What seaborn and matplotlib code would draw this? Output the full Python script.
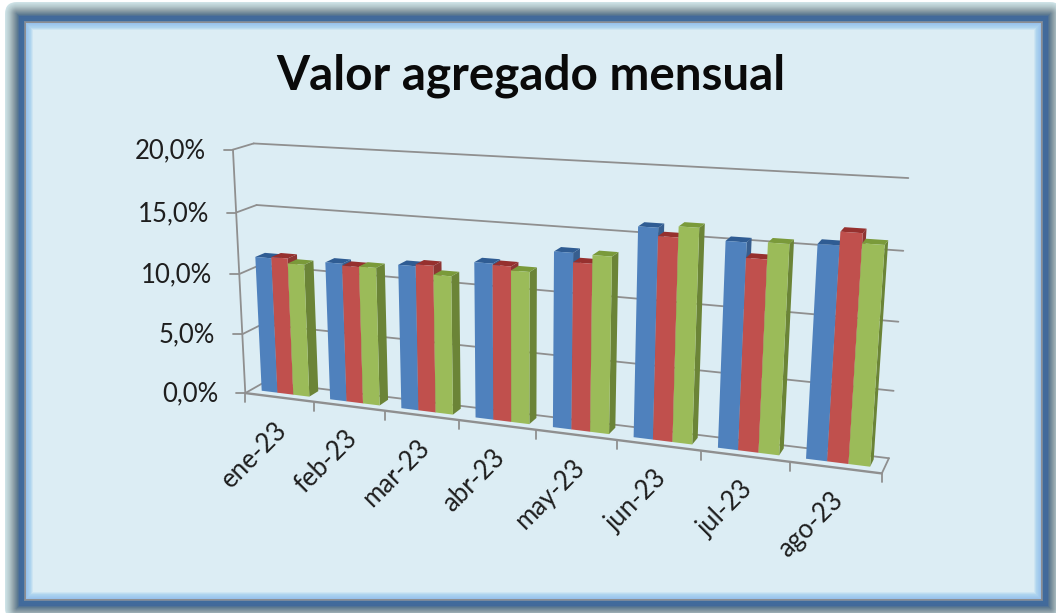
"""Valor agregado mensual, Excel style 3D columns drawn with seaborn."""
import matplotlib
matplotlib.use("Agg")
import matplotlib.pyplot as plt
import numpy as np
import pandas as pd
import seaborn as sns
from matplotlib.lines import Line2D
from matplotlib.patches import FancyBboxPatch, Polygon
from matplotlib.transforms import Affine2D, IdentityTransform, Transform

months = ["ene-23", "feb-23", "mar-23", "abr-23", "may-23", "jun-23", "jul-23", "ago-23"]
serie_a = [11.25, 11.3, 11.6, 12.3, 13.6, 15.9, 15.3, 15.55]
serie_b = [11.35, 11.15, 11.75, 12.2, 12.9, 15.3, 14.2, 16.5]
serie_c = [10.95, 11.2, 11.05, 11.9, 13.55, 16.1, 15.4, 15.8]
series_names = ["A", "B", "C"]
y_ticks = [0, 5, 10, 15, 20]
y_labels = ["0,0%", "5,0%", "10,0%", "15,0%", "20,0%"]

W, H = 1056, 613
GRID = "#8F8F8F"
front_colors = ["#4F81BD", "#C0504D", "#9BBB59"]
top_colors = ["#2F5C93", "#96302E", "#7A9A3A"]
side_colors = ["#375E8F", "#8E3533", "#6B8437"]
DEPTH_FRONT, DEPTH_BACK = 0.32, 0.8

# category position (0-8), depth (0-1), value -> pixel
calib = np.array([
    [0, 0, 0, 247, 393], [8, 0, 0, 882, 475], [8, 1, 0, 890, 456],
    [0, 1, 0, 263, 383], [0, 0, 20, 231, 149], [0, 1, 20, 255, 143],
    [8, 1, 20, 908, 179], [4, 0, 0, 535, 430], [0, 0, 10, 240, 274],
    [0, 0, 5, 243, 333], [0, 0, 15, 236, 213], [8, 1, 15, 904, 251],
    [8, 1, 10, 898, 322], [8, 1, 5, 893, 390], [0, 1, 15, 257, 205],
    [0, 1, 5, 262, 325],
], dtype=float)


def fit_camera(pts):
    rows = []
    for x, d, z, u, v in pts:
        X = [x / 8, d, z / 20, 1]
        u, v = u / 1000, v / 1000
        rows.append(X + [0, 0, 0, 0] + [-u * c for c in X])
        rows.append([0, 0, 0, 0] + X + [-v * c for c in X])
    return np.linalg.svd(np.array(rows))[2][-1].reshape(3, 4)


CAM = fit_camera(calib)


def project(x, d, z):
    x, d, z = np.broadcast_arrays(np.asarray(x, float), d, z)
    X = np.stack([x / 8, d, z / 20, np.ones_like(x)], axis=-1)
    q = X @ CAM.T
    return q[..., :2] / q[..., 2:] * 1000


class FrontPlane(Transform):
    input_dims = output_dims = 2

    def __init__(self, plane_depth):
        super().__init__()
        self.plane_depth = plane_depth

    def transform_non_affine(self, values):
        values = np.asarray(values, float)
        return project(values[:, 0] + 0.5, self.plane_depth, values[:, 1])


sns.set_theme(style="white")
plt.rcParams["font.family"] = ["Lato", "DejaVu Sans"]

fig = plt.figure(figsize=(W / 100, H / 100), dpi=100, facecolor="white")
ax = fig.add_axes([0, 0, 1, 1])
px = Affine2D().scale(1, -1).translate(0, H)

# frame, nested boxes from the soft outer shadow in to the pale panel
stops = [0, 4, 8, 12, 14, 18, 19, 20, 21, 25, 28]
reds = [0xCD, 0xB4, 0x8E, 0x5E, 0x42, 0x40, 0x78, 0x8C, 0x98, 0xAE, 0xDC]
greens = [0xE2, 0xC8, 0xA0, 0x7A, 0x69, 0x6B, 0x88, 0x8E, 0xC2, 0xD4, 0xED]
blues = [0xE6, 0xCC, 0xA8, 0x90, 0x9A, 0x9C, 0x9C, 0x92, 0xEC, 0xEE, 0xF4]
for off in np.arange(0, 29):
    col = [float(np.interp(off, stops, c)) / 255 for c in (reds, greens, blues)]
    x0, y0, x1, y1 = 5 + off, 2 + off, 1062 - off, 620 - off
    fig.add_artist(FancyBboxPatch(
        (x0, H - y1), x1 - x0, y1 - y0,
        boxstyle=f"round,pad=0,rounding_size={max(0.01, 12 - off)}",
        transform=IdentityTransform(), fc=col, ec="none", zorder=-5,
    ))

df = pd.DataFrame({
    "month": months * 3,
    "serie": np.repeat(series_names, len(months)),
    "value": serie_a + serie_b + serie_c,
})
sns.barplot(data=df, x="month", y="value", hue="serie", palette=front_colors,
            width=0.7, gap=0, saturation=1, linewidth=0, legend=False, ax=ax)
ax.set_xlim(-0.5, 7.5)
ax.set_ylim(0, 20)
ax.set_axis_off()
ax.patch.set_visible(False)


def grid_line(x, d, z, lw=1.3, zorder=1):
    uv = project(x, d, z)
    ax.add_line(Line2D(uv[:, 0], uv[:, 1], color=GRID, lw=lw, transform=px,
                       zorder=zorder, clip_on=False))


for z, label in zip(y_ticks, y_labels):
    grid_line([0, 0], [0, 1], [z, z])
    grid_line([0, 8], [1, 1], [z, z])
    u, v = project(0, 0, z)
    ax.add_line(Line2D([u - 9, u], [v, v], color=GRID, lw=1.3, transform=px, clip_on=False))
    ax.text(u - 27, v + 1, label, transform=px, ha="right", va="center",
            fontsize=18.5, color="#1E1E1E")

grid_line([0, 0], [0, 0], [0, 20])
grid_line([0, 8], [0, 0], [0, 0], lw=1.7, zorder=1)
grid_line([8, 8], [0, 1], [0, 0])
for i in range(9):
    u, v = project(i, 0, 0)
    ax.add_line(Line2D([u, u], [v, v + 9], color=GRID, lw=1.3, transform=px, clip_on=False))
for i, month in enumerate(months):
    u, v = project(i + 0.5, 0, 0)
    ax.text(u - 5, v + 20, month, transform=px, rotation=45, rotation_mode="anchor",
            ha="right", va="top", fontsize=18.5, color="#1E1E1E")

front = FrontPlane(DEPTH_FRONT) + px
for k, bar in enumerate(list(ax.patches)):
    s = k // len(months)
    x0, x1 = bar.get_x() + 0.5, bar.get_x() + bar.get_width() + 0.5
    z = bar.get_height()
    order = 3 + x0
    bar.set_transform(front)
    bar.set_clip_on(False)
    bar.set_zorder(order + 0.002)
    side = project([x1, x1, x1, x1], [DEPTH_FRONT, DEPTH_BACK, DEPTH_BACK, DEPTH_FRONT], [0, 0, z, z])
    top = project([x0, x1, x1, x0], [DEPTH_FRONT, DEPTH_FRONT, DEPTH_BACK, DEPTH_BACK], [z, z, z, z])
    ax.add_patch(Polygon(side, fc=side_colors[s], ec="none", transform=px, zorder=order, clip_on=False))
    ax.add_patch(Polygon(top, fc=top_colors[s], ec="none", transform=px, zorder=order + 0.001, clip_on=False))

ax.set_xlim(-0.5, 7.5)
ax.set_ylim(0, 20)
fig.text(531 / W, 1 - 76 / H, "Valor agregado mensual", ha="center", va="center",
         fontsize=34.3, fontweight="bold", color="#0A0A0A")
fig.savefig("out.png", dpi=100)
